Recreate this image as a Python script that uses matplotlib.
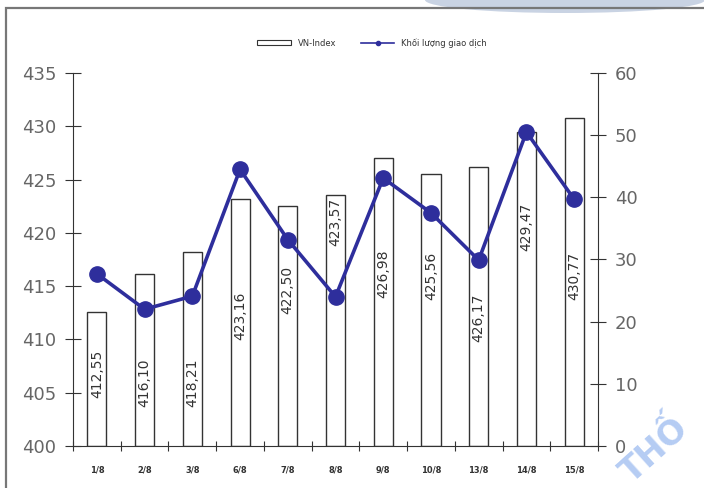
import matplotlib.pyplot as plt
import numpy as np
from matplotlib.patches import Rectangle, Ellipse
from matplotlib.lines import Line2D

dates = ["1/8", "2/8", "3/8", "6/8", "7/8", "8/8", "9/8", "10/8", "13/8", "14/8", "15/8"]
vn_index = [412.55, 416.10, 418.21, 423.16, 422.50, 423.57, 426.98, 425.56, 426.17, 429.47, 430.77]
volume = [27.7, 22.0, 24.1, 44.5, 33.2, 24.0, 43.1, 37.5, 29.9, 50.5, 39.7]
# vertical spot (left-axis units) of each rotated value label
label_y = [406.8, 405.9, 405.9, 412.2, 414.6, 421.0, 416.2, 416.0, 412.0, 420.6, 416.0]

grey = "#666666"
blue = "#2e2e9c"


def main():
    fig = plt.figure(figsize=(7.04, 4.88), dpi=100)
    fig.patch.set_facecolor("white")

    # outer frame and watermark bits
    fig.patches.append(Ellipse((565 / 704, 1.0), 280 / 704, 26 / 488,
                               transform=fig.transFigure, facecolor="#c9d3e3",
                               edgecolor="none"))
    fig.patches.append(Rectangle((6 / 704, -0.1), 1.2, 1 - 8 / 488 + 0.1,
                                 transform=fig.transFigure, fill=False,
                                 edgecolor="#777777", linewidth=1.6))
    fig.text(612 / 704, 6 / 488, "THỐ", transform=fig.transFigure, rotation=42,
             fontsize=24, fontweight="bold", color="#5b8ee6", alpha=0.45)

    ax = fig.add_axes([73 / 704, 42 / 488, 525 / 704, 373 / 488])
    ax.set_facecolor("none")
    x = np.arange(len(dates))

    ax.bar(x, np.array(vn_index) - 400, bottom=400, width=0.4, color="white",
           edgecolor="#333333", linewidth=1.0, zorder=2)
    for xi, val, ly in zip(x, vn_index, label_y):
        ax.text(xi, ly, f"{val:.2f}".replace(".", ","), rotation=90,
                ha="center", va="center", fontsize=10, color="#333333", zorder=3)

    ax.set_xlim(-0.5, len(dates) - 0.5)
    ax.set_ylim(400, 435)
    ax.set_yticks(np.arange(400, 436, 5))
    ax.set_xticks(np.arange(-0.5, len(dates), 1.0))
    ax.set_xticklabels([])
    ax.set_xticks(x, minor=True)
    ax.set_xticklabels(dates, minor=True, fontsize=6, fontweight="bold", color="#333333")
    ax.tick_params(axis="x", which="minor", length=0, pad=14)
    ax.tick_params(axis="x", which="major", direction="inout", length=7, color="#333333")
    ax.tick_params(axis="y", direction="inout", length=12, color="#333333",
                   labelsize=13, labelcolor=grey, pad=6)
    ax.spines["top"].set_visible(False)
    ax.spines["right"].set_visible(False)
    for s in ("left", "bottom"):
        ax.spines[s].set_color("#333333")

    ax2 = ax.twinx()
    ax2.plot(x, volume, color=blue, linewidth=2.6, marker="o", markersize=11, zorder=4)
    ax2.set_ylim(0, 60)
    ax2.set_yticks(np.arange(0, 61, 10))
    ax2.tick_params(axis="y", direction="inout", length=12, color="#333333",
                    labelsize=13, labelcolor=grey, pad=6)
    for s in ("top", "left", "bottom"):
        ax2.spines[s].set_visible(False)
    ax2.spines["right"].set_color("#333333")

    handles = [Rectangle((0, 0), 1, 1, facecolor="white", edgecolor="#333333", linewidth=0.8),
               Line2D([], [], color=blue, linewidth=1.2, marker="o", markersize=3)]
    fig.legend(handles, ["VN-Index", "Khối lượng giao dịch"], loc="center",
               bbox_to_anchor=(372 / 704, 1 - 43 / 488), ncol=2, frameon=False,
               fontsize=6, handlelength=4, handleheight=0.5, columnspacing=3,
               labelcolor="#333333")

    fig.savefig("out.png", dpi=100)


if __name__ == "__main__":
    main()
